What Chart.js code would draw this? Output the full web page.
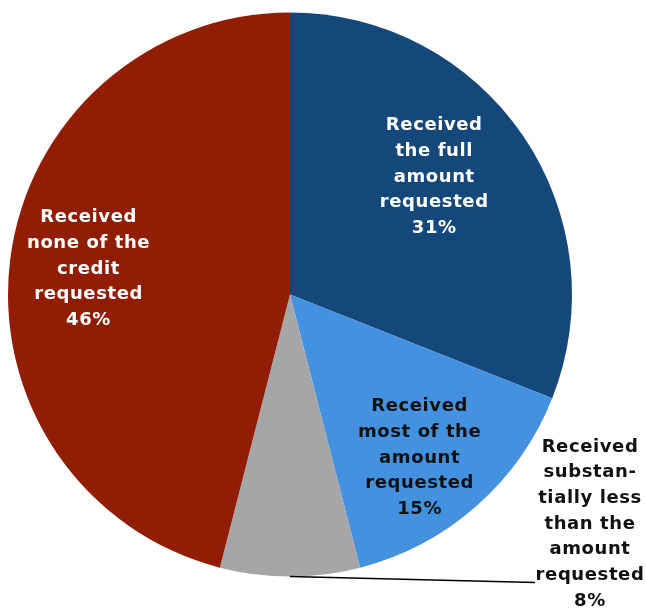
<!DOCTYPE html>
<html>
<head>
<meta charset="utf-8">
<script src="https://cdn.jsdelivr.net/npm/chart.js"></script>
<style>
  html, body { margin: 0; padding: 0; background: #fff; }
  #wrap { width: 646px; height: 611px; }
</style>
</head>
<body>
<div id="wrap"><canvas id="pieChart" width="646" height="611"></canvas></div>
<script>
// Chart data
const categories = [
    "Received the full amount requested",
    "Received most of the amount requested",
    "Received substantially less than the amount requested",
    "Received none of the credit requested"
];
const shares = [31, 15, 8, 46];
const sliceColors = ["#15487a", "#4391df", "#a6a6a6", "#921d05"];
const labelLines = [
    ["Received", "the full", "amount", "requested"],
    ["Received", "most of the", "amount", "requested"],
    ["Received", "substan-", "tially less", "than the", "amount", "requested"],
    ["Received", "none of the", "credit", "requested"]
];
const labelColors = ["#ffffff", "#111111", "#111111", "#ffffff"];

// where each label sits: radius fraction + angle tweak, or a fixed spot outside
const labelPlace = [
    { f: 0.66, da: -5 },
    { f: 0.74, da: 3 },
    { outside: true, x: 590, y: 524, lineEnd: 535 },
    { f: 0.72, da: 0 }
];

const pieLabels = {
    id: "pieLabels",
    afterDraw(chart) {
        const ctx = chart.ctx;
        const arcs = chart.getDatasetMeta(0).data;
        ctx.save();
        ctx.font = "bold 18px 'DejaVu Sans'";
        ctx.letterSpacing = "0.6px";
        ctx.textAlign = "center";
        ctx.textBaseline = "middle";
        const lineH = 25.7;
        arcs.forEach((arc, i) => {
            const p = arc.getProps(["x", "y", "startAngle", "endAngle", "outerRadius"], true);
            const mid = (p.startAngle + p.endAngle) / 2;
            const place = labelPlace[i];
            const lines = labelLines[i].concat([shares[i] + "%"]);
            let cx, cy;
            if (place.outside) {
                cx = place.x;
                cy = place.y;
                const sx = p.x + Math.cos(mid) * p.outerRadius;
                const sy = p.y + Math.sin(mid) * p.outerRadius;
                ctx.beginPath();
                ctx.moveTo(sx, sy);
                ctx.lineTo(place.lineEnd, sy + 6);
                ctx.strokeStyle = "#000";
                ctx.lineWidth = 1.5;
                ctx.stroke();
            } else {
                const a = mid + place.da * Math.PI / 180;
                cx = p.x + Math.cos(a) * p.outerRadius * place.f;
                cy = p.y + Math.sin(a) * p.outerRadius * place.f;
            }
            ctx.fillStyle = labelColors[i];
            const top = cy - (lines.length - 1) * lineH / 2;
            lines.forEach((t, k) => ctx.fillText(t, cx, top + k * lineH));
        });
        ctx.restore();
    }
};

new Chart(document.getElementById("pieChart"), {
    type: "pie",
    data: {
        labels: categories,
        datasets: [{
            data: shares,
            backgroundColor: sliceColors,
            borderWidth: 0
        }]
    },
    options: {
        responsive: false,
        animation: false,
        layout: { padding: { left: 8, right: 74, top: 12, bottom: 34 } },
        plugins: {
            legend: { display: false },
            tooltip: { enabled: false }
        }
    },
    plugins: [pieLabels]
});
</script>
</body>
</html>
